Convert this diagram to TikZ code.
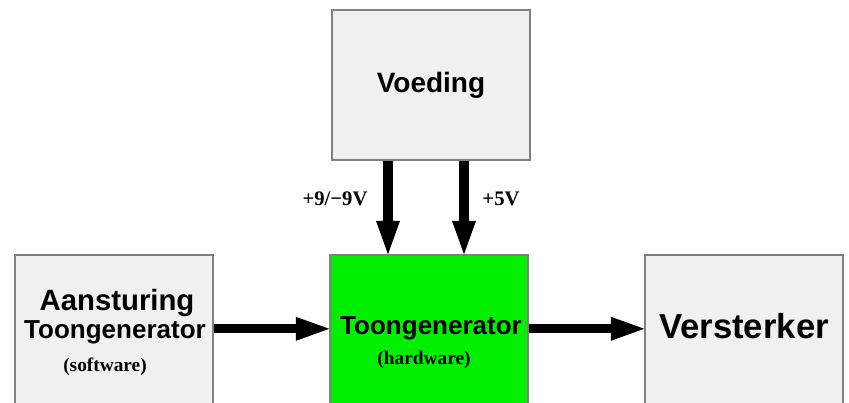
\documentclass[tikz,border=0pt]{standalone}
\usepackage{fontspec}
\setmainfont{Liberation Sans}
\newfontfamily\labelfont{Liberation Serif}
\usepackage{tikz}
\usetikzlibrary{arrows.meta, positioning}
\definecolor{blokgrijs}{HTML}{F0F0F0}
\definecolor{randgrijs}{HTML}{808080}
\definecolor{groen}{HTML}{00EE00}

\begin{document}
\begin{tikzpicture}[
  x=0.75pt, y=0.75pt,
  every node/.style={font=\bfseries},
  blok/.style={rectangle, draw=randgrijs, line width=1.1pt, fill=blokgrijs, minimum width=148.5pt, inner sep=0pt},
  pijl/.style={-{Triangle[length=25pt, width=18pt, line width=0pt]}, line width=7pt},
  groot/.style={anchor=base, font=\bfseries\fontsize{19.5}{23}\selectfont},
  sub/.style={anchor=base, font=\labelfont\bfseries\fontsize{14.5}{16}\selectfont},
]
  \clip (0,0) rectangle (849,403);

  \node[blok, minimum height=112.5pt, font=\bfseries\fontsize{21}{25}\selectfont] (voeding) at (431,318) {Voeding};
  \node[blok, minimum height=135pt] (sturing) at (114,58) {};
  \node[blok, fill=groen, minimum height=135pt] (toon) at (429,58) {};
  \node[blok, minimum height=135pt] (versterker) at (744,58) {};

  \node[anchor=base, font=\bfseries\fontsize{22}{26}\selectfont] (aansturing) at (117,92) {Aansturing};
  \node[groot] (toonsw) at (115,64) {Toongenerator};
  \node[sub] (sw) at (105,31) {(software)};
  \node[groot] (toonhw) at (431,68) {Toongenerator};
  \node[sub] (hw) at (424,38) {(hardware)};
  \node[anchor=base, font=\bfseries\fontsize{26}{30}\selectfont] (verst) at (744,64) {Versterker};

  \node[sub, font=\labelfont\bfseries\fontsize{15.5}{17}\selectfont] (v9) at (335,197) {+9/−9V};
  \node[sub, font=\labelfont\bfseries\fontsize{15.5}{17}\selectfont] (v5) at (501,197) {+5V};

  \draw[pijl] ([xshift=-32.25pt]voeding.south) -- ([xshift=-32.25pt]voeding.south |- toon.north);
  \draw[pijl] ([xshift=24.75pt]voeding.south) -- ([xshift=24.75pt]voeding.south |- toon.north);
  \draw[pijl] (sturing.east |- toonhw) -- (toon.west |- toonhw);
  \draw[pijl] (toon.east |- toonhw) -- (versterker.west |- toonhw);
\end{tikzpicture}
\end{document}
